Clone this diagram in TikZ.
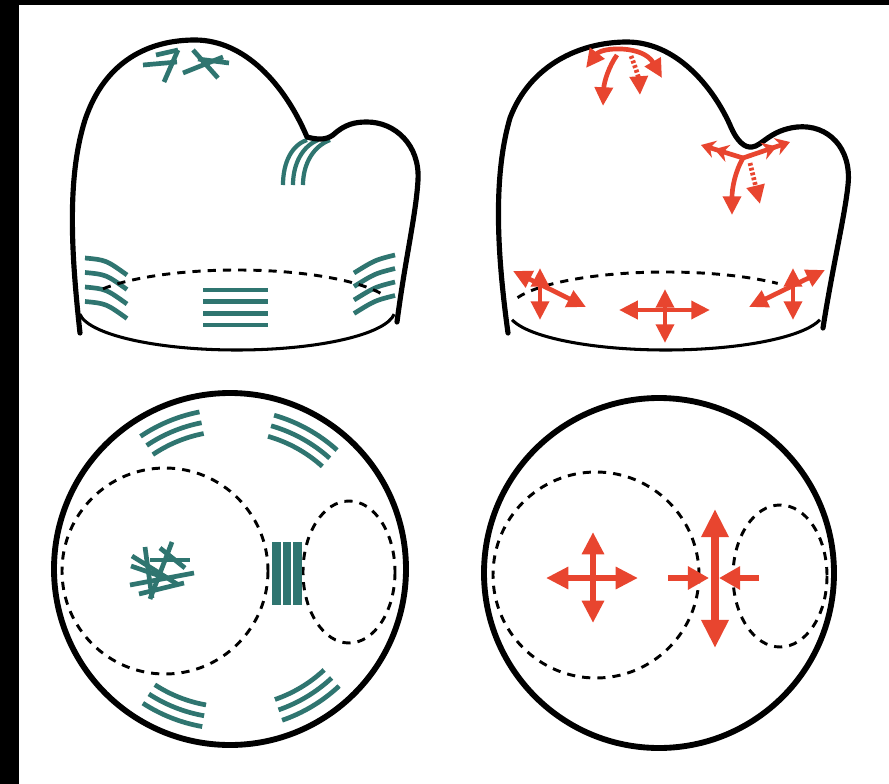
\documentclass[tikz,border=0pt]{standalone}
\usetikzlibrary{arrows.meta}
\definecolor{teal1}{RGB}{47,117,112}
\definecolor{red1}{RGB}{232,69,47}

\tikzset{
  outline/.style={line width=4.4pt, line cap=round, line join=round},
  ring/.style={line width=5pt},
  rim/.style={line width=2.6pt},
  backrim/.style={line width=2.5pt, dash pattern=on 7pt off 6pt},
  band/.style={draw=teal1, line width=4pt},
  strand/.style={draw=teal1, line width=3.6pt},
  force/.style={draw=red1, line width=4pt},
  twoway/.style={arrows={Triangle[length=16pt,width=15pt]-Triangle[length=16pt,width=15pt]}},
  oneway/.style={arrows={-Triangle[length=16pt,width=15pt]}},
  feather/.style={arrows={-{Stealth[length=12pt,width=15pt] Stealth[length=12pt,width=15pt]}}},
  dotted shaft/.style={dash pattern=on 2.4pt off 1.8pt},
  bigtwo/.style={line width=5pt, arrows={Triangle[length=19pt,width=18pt]-Triangle[length=19pt,width=18pt]}},
  hugetwo/.style={line width=6.2pt, arrows={Triangle[length=24pt,width=22pt]-Triangle[length=24pt,width=22pt]}},
  bigone/.style={line width=5.6pt, arrows={-Triangle[length=18pt,width=19pt]}}
}

\begin{document}
\begin{tikzpicture}[x=0.03cm,y=-0.03cm]
\useasboundingbox (0,0) rectangle (889,784);
\fill[white] (0,0) rectangle (889,784);
\fill[black] (0,0) rectangle (19,784);
\fill[black] (0,0) rectangle (889,5);

% ---------- left mitten: fibre layout ----------
\coordinate (LA) at (237,310);
% wrist bands
\foreach \k in {0,1,2,3}
  \draw[band] (85,{258+14.5*\k}) .. controls (106,{260+14.5*\k}) .. (127,{275+14.5*\k});
\foreach \k in {0,1,2,3}
  \draw[band] (354,{273+13.5*\k}) .. controls (375,{260+13.5*\k}) .. (395,{255+13.5*\k});
\foreach \yy in {290,301.7,313.3,325}
  \draw[band] (203,\yy) -- (268,\yy);
% random mat at the tip
\draw[band] (156,55) -- (178,50);
\draw[band] (143,65) -- (177,62);
\draw[band] (178,50) -- (164,82);
\draw[band] (183,73) -- (223,57);
\draw[band] (193,50) -- (218,78);
\draw[band] (198,59) -- (229,63);
% strands round the thumb crotch
\draw[strand] (307,140) .. controls (292,145) and (283,162) .. (283,185);
\draw[strand] (318,140) .. controls (303,146) and (293,163) .. (293,185);
\draw[strand] (330,140) .. controls (314,146) and (303,163) .. (303,185);
% rim
\draw[backrim] (LA) ++(212:158 and 40) arc[start angle=212,end angle=338,x radius=158,y radius=40];
\draw[rim] (LA) ++(174:158 and 40) arc[start angle=174,end angle=6,x radius=158,y radius=40];
% outline
\draw[outline] (80,333) .. controls (72,260) and (66,180) .. (85,120)
  .. controls (105,60) and (150,40) .. (195,40)
  .. controls (245,40) and (285,85) .. (307,137)
  .. controls (318,140) and (326,140) .. (333,135)
  .. controls (345,124) and (355,122) .. (367,122)
  .. controls (395,122) and (420,145) .. (418,180)
  .. controls (416,215) and (405,260) .. (397,322);

% ---------- right mitten: stretch directions ----------
\coordinate (RA) at (666,311);
\draw[backrim] (RA) ++(200:158 and 39) arc[start angle=200,end angle=315,x radius=158,y radius=39];
\draw[rim] (RA) ++(167:158 and 39) arc[start angle=167,end angle=13,x radius=158,y radius=39];
\draw[outline] (508,333) .. controls (498,260) and (492,180) .. (510,118)
  .. controls (530,65) and (580,42) .. (627,42)
  .. controls (675,42) and (712,85) .. (730,125)
  .. controls (737,142) and (745,148) .. (752,147)
  .. controls (762,146) and (770,130) .. (797,127)
  .. controls (828,124) and (852,148) .. (848,185)
  .. controls (845,215) and (832,270) .. (823,328);
% tip
\draw[force, twoway] (586,68) .. controls (602,47) and (643,45) .. (662,78);
\draw[force, oneway] (617,55) .. controls (609,66) and (604,82) .. (603,106);
\draw[force, oneway, dotted shaft] (631,56) .. controls (636,68) and (639,80) .. (640,95);
% thumb crotch
\coordinate (RN) at (743,158);
\draw[force, feather] (RN) -- (701,145);
\draw[force, feather] (RN) -- (790,142);
\draw[force, oneway] (RN) .. controls (735,172) and (732,188) .. (732,215);
\draw[force, oneway, dotted shaft] (750,163) -- (760,204);
% wrist
\draw[force, twoway] (540,268) -- (540,320);
\draw[force, twoway] (513,271) -- (586,307);
\draw[force, twoway] (619,310) -- (710,310);
\draw[force, twoway] (665,289) -- (665,343);
\draw[force, twoway] (793,268) -- (793,320);
\draw[force, twoway] (749,307) -- (825,270);

% ---------- left disc ----------
\coordinate (LC) at (230,569);
\draw[backrim] (165,571) circle[radius=103];
\draw[backrim] (349,572) ellipse[x radius=46, y radius=71];
\foreach \r in {138,149,160}{
  \draw[band] (LC) ++(-124:\r) arc[start angle=-124,end angle=-101,radius=\r];
  \draw[band] (LC) ++(-74:\r) arc[start angle=-74,end angle=-48,radius=\r];
  \draw[band] (LC) ++(100:\r) arc[start angle=100,end angle=123,radius=\r];
  \draw[band] (LC) ++(47:\r) arc[start angle=47,end angle=71,radius=\r];
}
\fill[teal1] (272,542) rectangle (302,605);
\draw[white, line width=1.5pt] (282,542) -- (282,605);
\draw[white, line width=1.5pt] (292,542) -- (292,605);
% random mat in the centre
\draw[band] (145,547) -- (152,598);
\draw[band] (172,542) -- (150,599);
\draw[band] (130,585) -- (194,573);
\draw[band] (132,556) -- (177,584);
\draw[band] (160,548) -- (185,568);
\draw[band] (139,594) -- (184,583);
\draw[band] (131,566) -- (166,578);
\draw[band] (150,560) -- (190,560);
\draw[ring] (LC) circle[radius=176];

% ---------- right disc ----------
\coordinate (RC) at (659,573);
\draw[backrim] (596,575) circle[radius=103];
\draw[backrim] (780,576) ellipse[x radius=47, y radius=71];
\draw[force, bigtwo] (546,578) -- (638,578);
\draw[force, bigtwo] (593,532) -- (593,623);
\draw[force, bigone] (668,578) -- (709,578);
\draw[force, bigone] (759,578) -- (719,578);
\draw[force, hugetwo] (715,509) -- (715,648);
\draw[ring] (RC) circle[radius=175];
\end{tikzpicture}
\end{document}
